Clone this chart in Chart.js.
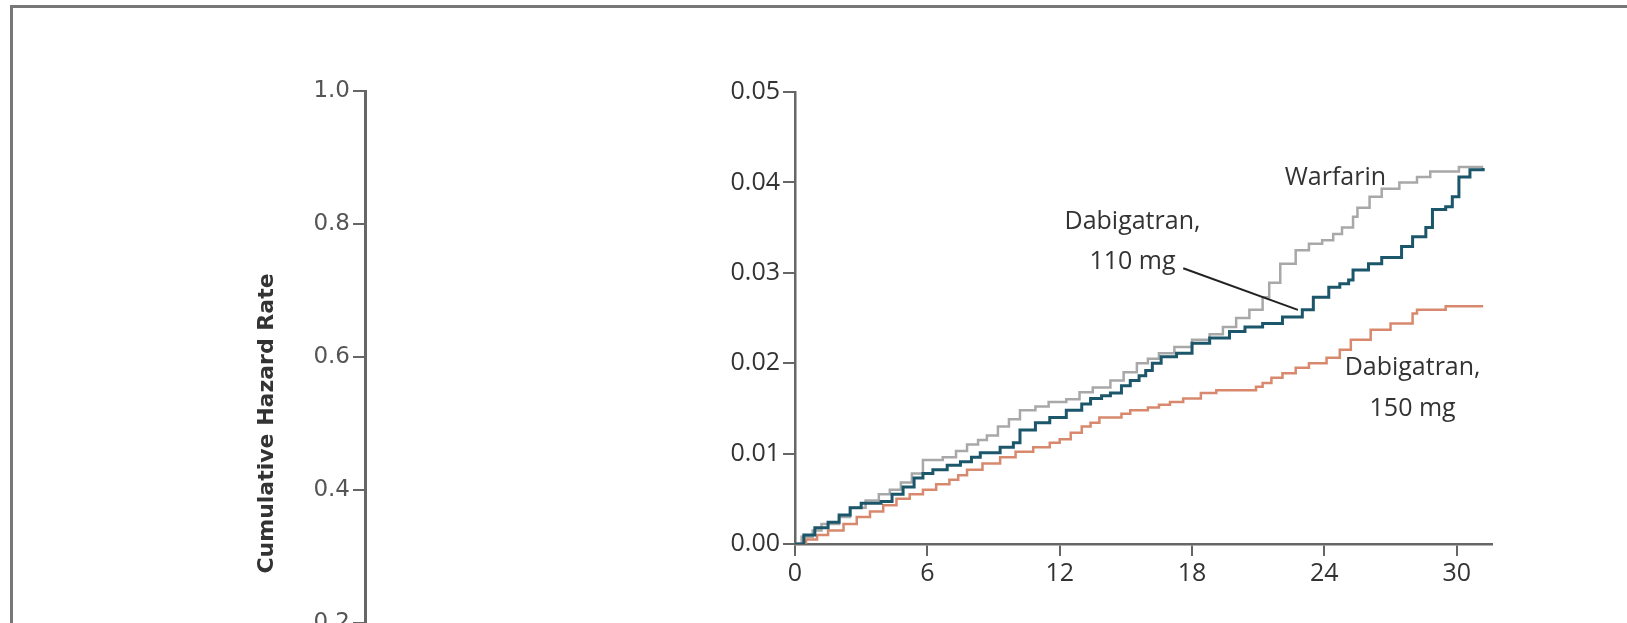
<!DOCTYPE html>
<html>
<head>
<meta charset="utf-8">
<script src="https://cdn.jsdelivr.net/npm/chart.js@4.4.1/dist/chart.umd.min.js"></script>
<style>
  html, body { margin: 0; padding: 0; width: 1627px; height: 623px; overflow: hidden; background: #fff; }
  #frame { position: absolute; left: 10px; top: 5px; width: 1700px; height: 700px; border-left: 3px solid #777; border-top: 3px solid #777; }
  canvas { position: absolute; left: 0; top: 0; }
</style>
</head>
<body>
<div id="frame"></div>
<canvas id="outer" width="1627" height="800"></canvas>
<canvas id="inset" width="1627" height="623"></canvas>
<script>
// tick values
const outerTicks = [0, 0.2, 0.4, 0.6, 0.8, 1.0];
const insetTicks = [0, 0.01, 0.02, 0.03, 0.04, 0.05];
const monthTicks = [0, 6, 12, 18, 24, 30];

// step curves (month, cumulative hazard)
const dabi110Months = [0, 0.4, 0.9, 1.5, 2.0, 2.5, 3.0, 3.9, 4.4, 4.9, 5.4, 5.8, 6.25, 6.9, 7.5, 8.0, 8.4, 9.3, 9.9, 10.2, 10.9, 11.55, 12.3, 13.0, 13.4, 13.9, 14.3, 14.8, 15.2, 15.6, 15.9, 16.2, 16.6, 17.3, 18.0, 18.8, 19.7, 20.4, 21.2, 22.1, 23.0, 23.5, 24.2, 24.7, 25.1, 25.3, 26.0, 26.6, 27.5, 28.0, 28.6, 28.9, 29.5, 29.8, 30.1, 30.6, 31.2];
const dabi110Hazard = [0, 0.0010, 0.0018, 0.0024, 0.0032, 0.0040, 0.0045, 0.0047, 0.0055, 0.0063, 0.0073, 0.0078, 0.0082, 0.0087, 0.0091, 0.0096, 0.0101, 0.0107, 0.0112, 0.0126, 0.0134, 0.0140, 0.0148, 0.0155, 0.0161, 0.0164, 0.0167, 0.0175, 0.0181, 0.0186, 0.0192, 0.0200, 0.0207, 0.0211, 0.0222, 0.0228, 0.0235, 0.0240, 0.0244, 0.0251, 0.0259, 0.0273, 0.0284, 0.0288, 0.0292, 0.0303, 0.0310, 0.0317, 0.0329, 0.0340, 0.0350, 0.0370, 0.0373, 0.0384, 0.0406, 0.0414, 0.0416];

const warfarinMonths = [0, 0.3, 0.8, 1.2, 2.0, 2.5, 3.2, 3.8, 4.3, 4.8, 5.3, 5.8, 6.7, 7.3, 7.8, 8.3, 8.7, 9.2, 9.7, 10.2, 10.9, 11.5, 12.3, 12.9, 13.5, 14.3, 14.9, 15.5, 16.0, 16.5, 17.2, 18.0, 18.8, 19.4, 20.0, 20.6, 21.2, 21.5, 22.0, 22.7, 23.3, 23.9, 24.4, 24.8, 25.3, 25.5, 26.05, 26.6, 27.4, 28.2, 28.8, 30.1, 31.2];
const warfarinHazard = [0, 0.0008, 0.0015, 0.0022, 0.0030, 0.0040, 0.0048, 0.0055, 0.0060, 0.0068, 0.0078, 0.0093, 0.0096, 0.0103, 0.0110, 0.0115, 0.0120, 0.0130, 0.0138, 0.0148, 0.0152, 0.0157, 0.0160, 0.0168, 0.0173, 0.0181, 0.0190, 0.0200, 0.0205, 0.0211, 0.0218, 0.0226, 0.0232, 0.0240, 0.0250, 0.0259, 0.0273, 0.0289, 0.0310, 0.0325, 0.0332, 0.0336, 0.0343, 0.0350, 0.0362, 0.0372, 0.0384, 0.0393, 0.0400, 0.0406, 0.0412, 0.0417, 0.0417];

const dabi150Months = [0, 0.5, 1.0, 1.5, 2.2, 2.8, 3.4, 4.0, 4.6, 5.2, 5.8, 6.4, 7.0, 7.4, 7.8, 8.5, 9.3, 10.0, 10.8, 11.55, 12.0, 12.5, 13.0, 13.4, 13.8, 14.8, 15.2, 16.0, 16.5, 17.0, 17.6, 18.4, 19.1, 20.9, 21.2, 21.6, 22.1, 22.7, 23.3, 24.1, 24.7, 25.2, 26.1, 27.0, 28.0, 28.2, 29.5, 31.2];
const dabi150Hazard = [0, 0.0005, 0.0010, 0.0015, 0.0022, 0.0030, 0.0036, 0.0043, 0.0050, 0.0055, 0.0060, 0.0066, 0.0071, 0.0076, 0.0082, 0.0089, 0.0096, 0.0102, 0.0107, 0.0112, 0.0116, 0.0123, 0.0130, 0.0134, 0.0140, 0.0144, 0.0148, 0.0151, 0.0154, 0.0157, 0.0161, 0.0167, 0.0170, 0.0174, 0.0178, 0.0184, 0.0189, 0.0195, 0.0200, 0.0206, 0.0215, 0.0226, 0.0237, 0.0244, 0.0255, 0.0259, 0.0263, 0.0263];

const toPoints = (xs, ys) => xs.map((x, i) => ({ x: x, y: ys[i] }));

// curve labels, placed in data units
const curveLabels = [
  { text: 'Warfarin', month: 24.5, value: 0.0405 },
  { text: 'Dabigatran,', month: 15.3, value: 0.0356 },
  { text: '110 mg', month: 15.3, value: 0.0312 },
  { text: 'Dabigatran,', month: 28.0, value: 0.0195 },
  { text: '150 mg', month: 28.0, value: 0.0150 }
];
const pointer = { from: [17.6, 0.0305], to: [22.8, 0.0259] };

const axisGray = '#666';

// outer (0 - 1.0) axis, only the top part shows
new Chart(document.getElementById('outer'), {
  type: 'line',
  data: { datasets: [] },
  options: {
    responsive: false,
    animation: false,
    layout: { padding: { left: 254, top: 91, right: 1200, bottom: 44 } },
    plugins: { legend: { display: false }, tooltip: { enabled: false } },
    scales: {
      x: { type: 'linear', min: 0, max: 1, display: false },
      y: {
        min: 0,
        max: 1,
        afterFit: s => { s.width = 111; },
        afterBuildTicks: s => { s.ticks = outerTicks.map(v => ({ value: v })); },
        ticks: {
          callback: v => v.toFixed(1),
          font: { family: 'DejaVu Sans', size: 23 },
          color: '#555',
          padding: 3
        },
        grid: { drawOnChartArea: false, tickLength: 12, color: axisGray, lineWidth: 2 },
        border: { color: axisGray, width: 3 },
        title: {
          display: true,
          text: 'Cumulative Hazard Rate',
          font: { family: 'DejaVu Sans', size: 22, weight: 'bold' },
          color: '#333',
          padding: 0
        }
      }
    }
  }
});

const labelPlugin = {
  id: 'curveLabels',
  afterDatasetsDraw(chart) {
    const { ctx, scales } = chart;
    ctx.save();
    ctx.strokeStyle = '#222';
    ctx.lineWidth = 2;
    ctx.beginPath();
    ctx.moveTo(scales.x.getPixelForValue(pointer.from[0]), scales.y.getPixelForValue(pointer.from[1]));
    ctx.lineTo(scales.x.getPixelForValue(pointer.to[0]), scales.y.getPixelForValue(pointer.to[1]));
    ctx.stroke();
    ctx.font = '25px "Open Sans"';
    ctx.fillStyle = '#333';
    ctx.textAlign = 'center';
    ctx.textBaseline = 'middle';
    curveLabels.forEach(l => {
      ctx.fillText(l.text, scales.x.getPixelForValue(l.month), scales.y.getPixelForValue(l.value));
    });
    ctx.restore();
  }
};

new Chart(document.getElementById('inset'), {
  type: 'line',
  data: {
    datasets: [
      { label: 'Dabigatran, 110 mg', data: toPoints(dabi110Months, dabi110Hazard), borderColor: '#1b566a', borderWidth: 3 },
      { label: 'Warfarin', data: toPoints(warfarinMonths, warfarinHazard), borderColor: '#a8a8a8', borderWidth: 2.5 },
      { label: 'Dabigatran, 150 mg', data: toPoints(dabi150Months, dabi150Hazard), borderColor: '#d8896d', borderWidth: 2.5 }
    ]
  },
  options: {
    responsive: false,
    animation: false,
    layout: { padding: { left: 600, top: 92, right: 135, bottom: 29 } },
    elements: { point: { radius: 0 }, line: { stepped: true, fill: false } },
    plugins: { legend: { display: false }, tooltip: { enabled: false } },
    scales: {
      x: {
        type: 'linear',
        min: 0,
        max: 31.6,
        afterFit: s => { s.height = 50; },
        afterBuildTicks: s => { s.ticks = monthTicks.map(v => ({ value: v })); },
        ticks: {
          callback: v => String(v),
          font: { family: 'Open Sans', size: 25 },
          color: '#333',
          padding: 3,
          maxRotation: 0
        },
        grid: { drawOnChartArea: false, tickLength: 12, color: axisGray, lineWidth: 2 },
        border: { color: axisGray, width: 2.5 }
      },
      y: {
        min: 0,
        max: 0.05,
        afterFit: s => { s.width = 195; },
        afterBuildTicks: s => { s.ticks = insetTicks.map(v => ({ value: v })); },
        ticks: {
          callback: v => v.toFixed(2),
          font: { family: 'Open Sans', size: 25 },
          color: '#333',
          padding: 3
        },
        grid: { drawOnChartArea: false, tickLength: 12, color: axisGray, lineWidth: 2 },
        border: { color: axisGray, width: 2.5 }
      }
    }
  },
  plugins: [labelPlugin]
});
</script>
</body>
</html>
